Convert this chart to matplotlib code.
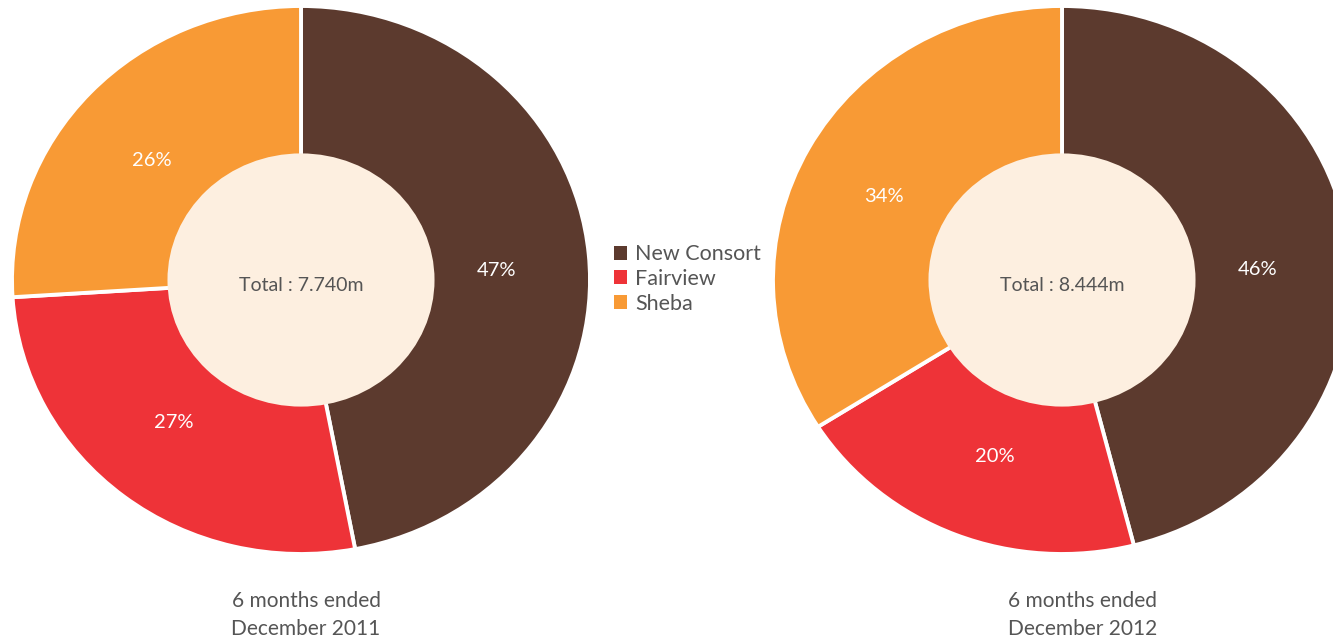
import matplotlib
matplotlib.use("Agg")
import matplotlib.pyplot as plt
from matplotlib.patches import Circle

categories = ["New Consort", "Fairview", "Sheba"]
colors = ["#5C3A2E", "#EE3338", "#F89A35"]
values_2011 = [47, 27, 26]
values_2012 = [46, 20, 34]
totals = ["Total : 7.740m", "Total : 8.444m"]
periods = ["6 months ended\nDecember 2011", "6 months ended\nDecember 2012"]

# layout only: small pixel nudges of the percentage labels (dx right, dy down)
NUDGE_2011 = [(0, 8), (-7, -5), (-6, 8)]
NUDGE_2012 = [(1, 13), (5, 3), (-6, 6)]

FONT = ["Lato", "DejaVu Sans"]
plt.rcParams['font.family'] = FONT

W, H = 1333, 639
RX, RY = 289, 274
fig = plt.figure(figsize=(W / 100, H / 100), dpi=100)
fig.patch.set_facecolor("white")

def px_axes(cx, cy, rx, ry):
    return fig.add_axes([(cx - rx) / W, (H - (cy + ry)) / H, 2 * rx / W, 2 * ry / H])

def donut(ax, vals, total, nudges):
    wedges, texts, autotexts = ax.pie(
        vals, colors=colors, startangle=90, counterclock=False,
        autopct=lambda p: f"{p:.0f}%", pctdistance=0.68,
        wedgeprops=dict(edgecolor="white", linewidth=2.8),
        textprops=dict(color="white", fontsize=14.5))
    ax.set_aspect("auto")
    ax.set_xlim(-1.0, 1.0)
    ax.set_ylim(-1.0, 1.0)
    for t, (dx, dy) in zip(autotexts, nudges):
        x, y = t.get_position()
        t.set_position((x + dx / RX, y - dy / RY))
    ax.add_patch(Circle((0, 0), 0.462, facecolor="#FDEFE0", edgecolor="none", zorder=5))
    ax.text(0, -0.02, total, ha="center", va="center", fontsize=14,
            color="#555555", zorder=6)
    ax.axis("off")
    return wedges

ax1 = px_axes(301, 280, RX, RY)
w1 = donut(ax1, values_2011, totals[0], NUDGE_2011)
ax2 = px_axes(1062, 280, RX, RY)
donut(ax2, values_2012, totals[1], NUDGE_2012)

fig.text(306 / W, 1 - 615 / H, periods[0], ha="center", va="center",
         fontsize=15, color="#555555", linespacing=1.45)
fig.text(1083 / W, 1 - 615 / H, periods[1], ha="center", va="center",
         fontsize=15, color="#555555", linespacing=1.45)

leg = fig.legend(w1, categories, loc="center left",
                 bbox_to_anchor=(605 / W, 1 - 279 / H), frameon=False,
                 fontsize=15.5, handlelength=0.62, handleheight=0.62,
                 handletextpad=0.38, labelspacing=0.22, borderaxespad=0)
for t in leg.get_texts():
    t.set_color("#555555")
for h in leg.legend_handles:
    h.set_edgecolor("none")

fig.savefig("out.png", dpi=100, facecolor="white")
